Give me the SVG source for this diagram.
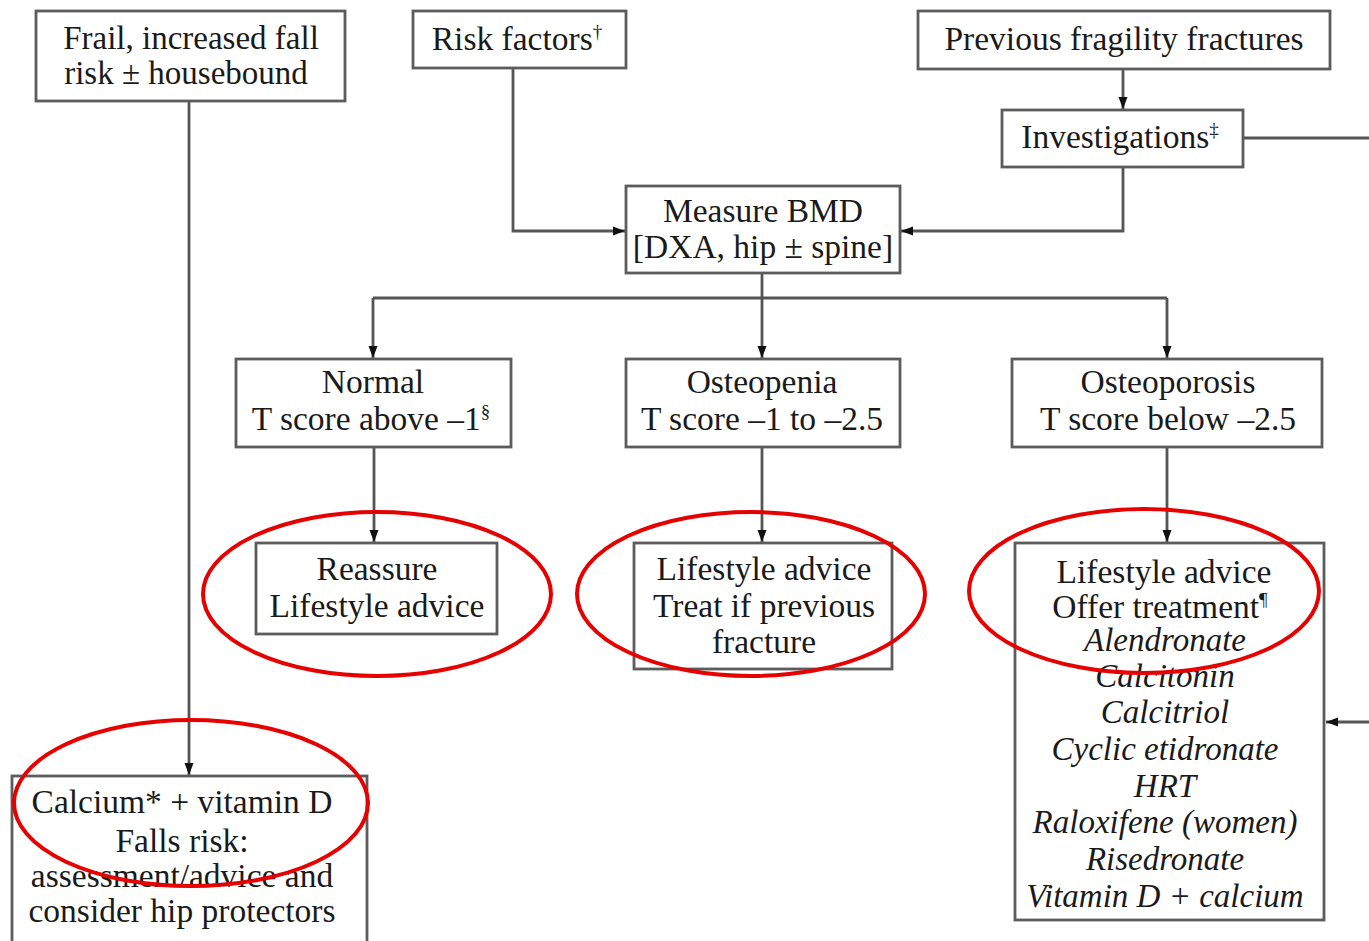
<svg xmlns="http://www.w3.org/2000/svg" width="1369" height="941" viewBox="0 0 1369 941">
<style>
.box{fill:#fff;stroke:#5c5c5c;stroke-width:2.8}
.t{font-family:"Liberation Serif","Times New Roman",serif;font-size:33.5px;fill:#1a1a1a;text-anchor:middle}
.tf{font-size:33px}
.tt{font-size:33px}
.i{font-style:italic}
.sup{font-size:19px}
.edge{fill:none;stroke:#555;stroke-width:2.8}
.ring{fill:none;stroke:#e60000;stroke-width:4}
</style>
<defs>
<marker id="ah" viewBox="0 0 12 10" refX="12" refY="5" markerWidth="12" markerHeight="10" markerUnits="userSpaceOnUse" orient="auto">
<path d="M0,0.5 L12,5 L0,9.5 Z" fill="#111"/>
</marker>
</defs>
<rect width="1369" height="941" fill="#fff"/>
<g id="connectors">
<path class="edge" d="M189,101 V775" marker-end="url(#ah)"/>
<path class="edge" d="M513,68 V231 H625" marker-end="url(#ah)"/>
<path class="edge" d="M1123,69 V109" marker-end="url(#ah)"/>
<path class="edge" d="M1123,167 V231 H901" marker-end="url(#ah)"/>
<path class="edge" d="M1243,138 H1380 V722 H1326" marker-end="url(#ah)"/>
<path class="edge" d="M762,273 V298"/>
<path class="edge" d="M373,298 H1167"/>
<path class="edge" d="M373,298 V358" marker-end="url(#ah)"/>
<path class="edge" d="M762,298 V358" marker-end="url(#ah)"/>
<path class="edge" d="M1167,298 V358" marker-end="url(#ah)"/>
<path class="edge" d="M374,447 V542" marker-end="url(#ah)"/>
<path class="edge" d="M762,447 V542" marker-end="url(#ah)"/>
<path class="edge" d="M1167,447 V542" marker-end="url(#ah)"/>
</g>
<g id="frail">
<rect class="box" x="36" y="11" width="309" height="90"/>
<text class="t tf" x="191" y="49">Frail, increased fall</text>
<text class="t tf" x="186" y="84">risk ± housebound</text>
</g>
<g id="risk">
<rect class="box" x="413" y="11" width="213" height="57"/>
<text class="t" x="517" y="50">Risk factors<tspan class="sup" dy="-12">†</tspan></text>
</g>
<g id="previous">
<rect class="box" x="918" y="11" width="412" height="58"/>
<text class="t" x="1124" y="50">Previous fragility fractures</text>
</g>
<g id="investigations">
<rect class="box" x="1002" y="110" width="241" height="57"/>
<text class="t" x="1120" y="148">Investigations<tspan class="sup" dy="-12">‡</tspan></text>
</g>
<g id="bmd">
<rect class="box" x="626" y="186" width="274" height="87"/>
<text class="t" x="763" y="222">Measure BMD</text>
<text class="t" x="763" y="258">[DXA, hip ± spine]</text>
</g>
<g id="normal">
<rect class="box" x="236" y="359" width="275" height="88"/>
<text class="t" x="373" y="393">Normal</text>
<text class="t" x="371" y="430">T score above –1<tspan class="sup" dy="-12">§</tspan></text>
</g>
<g id="osteopenia">
<rect class="box" x="626" y="359" width="274" height="88"/>
<text class="t" x="762" y="393">Osteopenia</text>
<text class="t" x="762" y="430">T score –1 to –2.5</text>
</g>
<g id="osteoporosis">
<rect class="box" x="1012" y="359" width="310" height="88"/>
<text class="t" x="1168" y="393">Osteoporosis</text>
<text class="t" x="1168" y="430">T score below –2.5</text>
</g>
<g id="reassure">
<rect class="box" x="256" y="543" width="241" height="91"/>
<text class="t" x="377" y="580">Reassure</text>
<text class="t" x="377" y="617">Lifestyle advice</text>
</g>
<g id="lifestyle-osteopenia">
<rect class="box" x="634" y="543" width="258" height="126"/>
<text class="t" x="764" y="580">Lifestyle advice</text>
<text class="t" x="764" y="617">Treat if previous</text>
<text class="t" x="764" y="653">fracture</text>
</g>
<g id="treatment">
<rect class="box" x="1015" y="543" width="309" height="377"/>
<text class="t" x="1164" y="583">Lifestyle advice</text>
<text class="t" x="1160" y="618">Offer treatment<tspan class="sup" dy="-12">¶</tspan></text>
<text class="t tt i" x="1165" y="651">Alendronate</text>
<text class="t tt i" x="1165" y="687">Calcitonin</text>
<text class="t tt i" x="1165" y="723">Calcitriol</text>
<text class="t tt i" x="1165" y="760">Cyclic etidronate</text>
<text class="t tt i" x="1165" y="797">HRT</text>
<text class="t tt i" x="1165" y="833">Raloxifene (women)</text>
<text class="t tt i" x="1165" y="870">Risedronate</text>
<text class="t tt i" x="1165" y="907">Vitamin D + calcium</text>
</g>
<g id="calcium">
<rect class="box" x="12" y="776" width="355" height="180"/>
<text class="t" x="182" y="813">Calcium* + vitamin D</text>
<text class="t" x="182" y="852">Falls risk:</text>
<text class="t" x="182" y="887">assessment/advice and</text>
<text class="t" x="182" y="922">consider hip protectors</text>
</g>
<g id="highlights">
<ellipse class="ring" cx="377" cy="594" rx="174" ry="82"/>
<ellipse class="ring" cx="751" cy="594" rx="174" ry="82"/>
<ellipse class="ring" cx="1144" cy="591" rx="175" ry="82"/>
<ellipse class="ring" cx="191" cy="803" rx="177" ry="83"/>
</g>
</svg>
